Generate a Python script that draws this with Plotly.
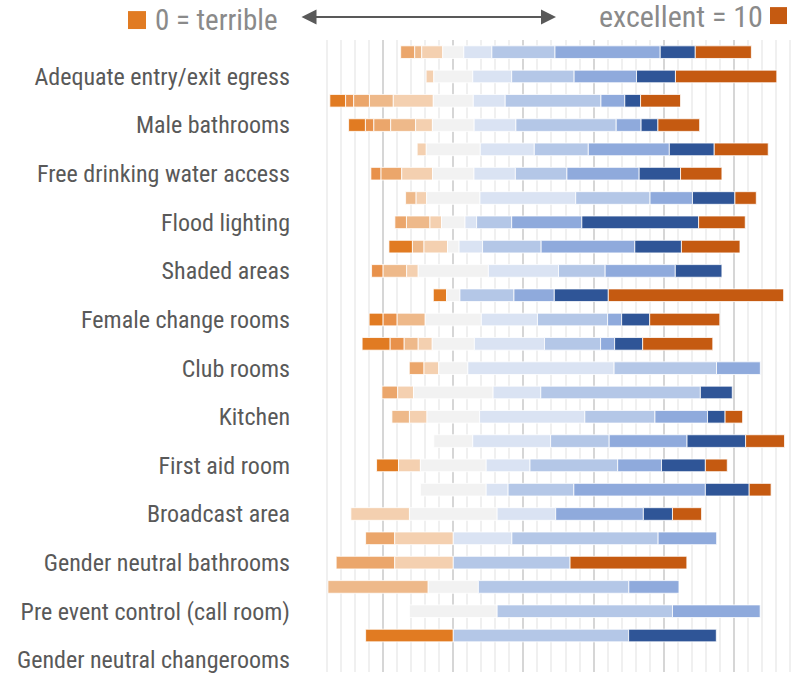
import plotly.graph_objects as go

# Share of responses (%) for each score, one list per score, one entry per row (top to bottom)
score_0 = [0, 0, 4.5, 4.8, 0, 0, 0, 0, 6.7, 0, 3.8, 4, 8, 0, 0, 0, 0, 6.25, 0, 0, 0, 0, 0, 0, 25, 0]
score_1 = [0, 0, 2.3, 2.4, 0, 2.9, 0, 0, 0, 3.3, 0, 4, 4, 0, 0, 0, 0, 0, 0, 0, 0, 0, 0, 0, 0, 0]
score_2 = [4, 0, 4.5, 4.8, 0, 5.9, 0, 3.3, 0, 0, 0, 0, 0, 4.2, 4.5, 0, 0, 0, 0, 0, 8.3, 16.7, 0, 0, 0, 0]
score_3 = [2, 0, 6.8, 7.1, 0, 0, 3.0, 6.7, 3.3, 6.7, 0, 8, 4, 0, 0, 5, 0, 0, 0, 0, 0, 0, 28.6, 0, 0, 0]
score_4 = [6, 2.2, 11.4, 4.8, 2.6, 8.8, 3.0, 3.3, 6.7, 3.3, 0, 0, 4, 4.2, 4.5, 5, 0, 6.25, 0, 16.7, 16.7, 16.7, 0, 0, 0, 0]
score_5 = [6, 11.1, 11.4, 11.9, 15.4, 11.8, 15.2, 6.7, 3.3, 20, 3.8, 16, 12, 8.3, 22.7, 15, 11.1, 18.75, 18.75, 25, 0, 0, 14.3, 25, 0, 0]
score_6 = [8, 11.1, 9.1, 11.9, 15.4, 11.8, 27.3, 3.3, 6.7, 20, 0, 16, 20, 41.7, 13.6, 30, 22.2, 12.5, 6.25, 16.7, 16.7, 0, 0, 0, 0, 0]
score_7 = [18, 17.8, 27.3, 28.6, 15.4, 14.7, 21.2, 10, 16.7, 13.3, 15.4, 20, 16, 29.2, 45.5, 20, 16.7, 25, 18.75, 0, 41.7, 33.3, 42.9, 50, 50, 0]
score_8 = [30, 17.8, 6.8, 7.1, 23.1, 20.6, 12.1, 20, 26.7, 20, 11.5, 4, 4, 12.5, 0, 15, 22.2, 12.5, 37.5, 25, 16.7, 0, 14.3, 25, 0, 0]
score_9 = [10, 11.1, 4.5, 4.8, 12.8, 11.8, 12.1, 33.3, 13.3, 13.3, 15.4, 8, 8, 0, 9.1, 5, 16.7, 12.5, 12.5, 8.3, 0, 0, 0, 0, 25, 0]
score_10 = [16, 28.9, 11.4, 11.9, 15.4, 11.8, 6.1, 13.3, 16.7, 0, 50, 20, 20, 0, 0, 5, 11.1, 6.25, 6.25, 8.3, 0, 33.3, 0, 0, 0, 0]

# Row labels that appear on the axis (every second row)
label_rows = [1, 3, 5, 7, 9, 11, 13, 15, 17, 19, 21, 23, 25]
label_text = [
    "Adequate entry/exit egress",
    "Male bathrooms",
    "Free drinking water access",
    "Flood lighting",
    "Shaded areas",
    "Female change rooms",
    "Club rooms",
    "Kitchen",
    "First aid room",
    "Broadcast area",
    "Gender neutral bathrooms",
    "Pre event control (call room)",
    "Gender neutral changerooms",
]

scores = [score_0, score_1, score_2, score_3, score_4, score_5,
          score_6, score_7, score_8, score_9, score_10]
colors = ["#E17B22", "#E8914A", "#EBA66B", "#EEB98A", "#F4D0B0", "#F2F2F2",
          "#DAE3F3", "#B4C7E7", "#8FAADC", "#2F5597", "#C55A11"]

n_rows = len(score_0)
rows = list(range(n_rows))

# Centre each bar on the middle of the neutral (5) segment
starts = []
for r in rows:
    left = sum(s[r] for s in scores[:5]) + scores[5][r] / 2
    starts.append(-left)

fig = go.Figure()
running = starts[:]
for k, (vals, col) in enumerate(zip(scores, colors)):
    widths = [v if v > 0 else None for v in vals]
    bases = [running[r] for r in rows]
    fig.add_trace(go.Bar(
        y=rows, x=widths, base=bases, orientation="h",
        marker=dict(color=col, line=dict(color="white", width=0.8)),
        width=0.52, name=str(k), showlegend=False, hoverinfo="skip",
    ))
    running = [running[r] + vals[r] for r in rows]

W, H = 804, 674
ML, MT = 313, 40
pw, ph = W - ML, H - MT


def px_x(x):
    return (x - ML) / pw


def px_y(y):
    return (H - y) / ph


fig.update_layout(
    width=W, height=H,
    margin=dict(l=ML, r=0, t=MT, b=0),
    barmode="overlay",
    plot_bgcolor="white", paper_bgcolor="white",
    font=dict(family="Roboto Condensed, Roboto, sans-serif", color="#595959"),
    xaxis=dict(
        range=[-40, 100], dtick=20, showticklabels=False, ticks="",
        showgrid=True, gridcolor="#D6D6D6", gridwidth=1.6,
        zeroline=False, showline=False,
        minor=dict(dtick=4, showgrid=True, gridcolor="#F0F0F0", gridwidth=1.6),
    ),
    yaxis=dict(
        range=[n_rows - 0.5, -0.5], tickmode="array",
        tickvals=label_rows, ticktext=label_text,
        tickfont=dict(size=24, color="#595959"),
        showgrid=False, zeroline=False, showline=False, ticks="",
        ticklabelstandoff=22, ticklabeloverflow="allow",
    ),
    shapes=[
        dict(type="rect", xref="paper", yref="paper",
             x0=px_x(128), x1=px_x(146), y0=px_y(29), y1=px_y(11),
             fillcolor="#E17B22", line=dict(width=0)),
        dict(type="rect", xref="paper", yref="paper",
             x0=px_x(770), x1=px_x(787), y0=px_y(24), y1=px_y(7),
             fillcolor="#C55A11", line=dict(width=0)),
    ],
    annotations=[
        dict(text="0 = terrible", xref="paper", yref="paper",
             x=px_x(153), y=px_y(20), xanchor="left", yanchor="middle",
             showarrow=False, font=dict(size=29, color="#8A8A8A")),
        dict(text="excellent = 10", xref="paper", yref="paper",
             x=px_x(765), y=px_y(16), xanchor="right", yanchor="middle",
             showarrow=False, font=dict(size=30, color="#8A8A8A")),
        dict(text="", xref="paper", yref="paper",
             x=px_x(556), y=px_y(17), ax=300 - 556, ay=0,
             showarrow=True, arrowside="end+start", arrowhead=2,
             arrowsize=1.5, arrowwidth=2, arrowcolor="#595959", standoff=0,
             startstandoff=0),
    ],
)

fig.write_html("out.html")
